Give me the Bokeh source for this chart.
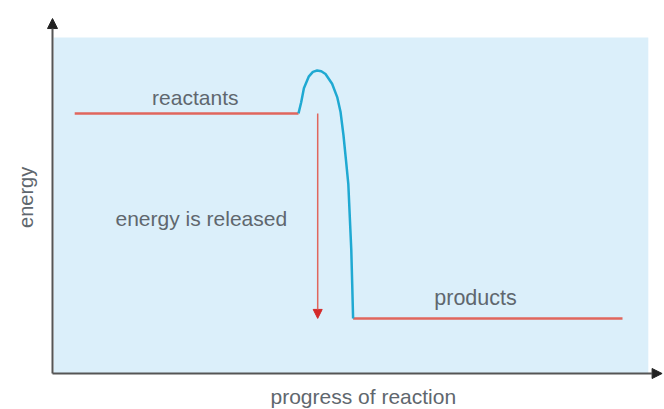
import math
from bokeh.plotting import figure
from bokeh.models import Range1d, Arrow, NormalHead
from bokeh.core.properties import value
from bokeh.embed import file_html
from bokeh.resources import INLINE

# schematic energy profile (progress 0-100, energy 0-100)
reactant_x = [3.7, 41.0]
reactant_y = [76.5, 76.5]
product_x = [50.1, 95.0]
product_y = [16.2, 16.2]
hump_x = [41.0, 41.45, 41.9, 42.7, 43.4, 44.1, 44.8, 45.5, 46.6, 47.45, 48.0, 48.5, 48.9, 49.3, 49.55, 49.8, 49.95, 50.1]
hump_y = [76.5, 79.8, 83.9, 87.3, 88.7, 89.1, 88.9, 88.1, 85.2, 81.3, 77.0, 70.0, 63.0, 55.8, 46.0, 36.2, 26.4, 16.2]
release_x = 44.2
labels = ["reactants", "energy is released", "products"]

W, H = 664, 409
OX, OY = 52, 373
XU, YU = 6.0, 3.4
p = figure(width=W, height=H,
           x_range=Range1d(-OX / XU, (W - OX) / XU), y_range=Range1d(-(H - OY) / YU, OY / YU),
           output_backend="svg", toolbar_location=None, min_border=0)
p.axis.visible = False
p.grid.visible = False
p.outline_line_color = None
p.background_fill_color = "white"
p.border_fill_color = "white"

p.quad(left=0.2, right=99.3, bottom=0, top=98.8, fill_color="#dbeffa", line_color=None)

red = "#e0665c"
p.line(reactant_x, reactant_y, line_color=red, line_width=2.5)
p.line(product_x, product_y, line_color=red, line_width=2.5)
p.line(hump_x, hump_y, line_color="#1fa9d2", line_width=2.5, line_join="round")

p.add_layout(Arrow(end=NormalHead(size=9, fill_color="#d42a2a", line_color="#d42a2a"),
                   x_start=release_x, y_start=reactant_y[0], x_end=release_x, y_end=product_y[0],
                   line_color="#e0665c", line_width=1.5))

# axes
p.add_layout(Arrow(end=NormalHead(size=10, fill_color="#222", line_color="#222"),
                   x_start=0, y_start=0, x_end=0, y_end=104.4, line_color="#555", line_width=2))
p.add_layout(Arrow(end=NormalHead(size=10, fill_color="#222", line_color="#222"),
                   x_start=0, y_start=0, x_end=101.6, y_end=0, line_color="#555", line_width=2))

font = value("Liberation Sans")
tc = "#5f676e"
p.text(x=[23.8], y=[81.2], text=[labels[0]], text_font=font, text_font_size="21px",
       text_color=tc, text_align="center", text_baseline="middle")
p.text(x=[10.5], y=[45.6], text=[labels[1]], text_font=font, text_font_size="21px",
       text_color=tc, text_align="left", text_baseline="middle")
p.text(x=[70.5], y=[22.1], text=[labels[2]], text_font=font, text_font_size="21.5px",
       text_color=tc, text_align="center", text_baseline="middle")
p.text(x=[51.8], y=[-6.76], text=["progress of reaction"], text_font=font, text_font_size="21px",
       text_color=tc, text_align="center", text_baseline="middle")
p.text(x=[-4.5], y=[51.8], text=["energy"], text_font=font, text_font_size="20px",
       text_color=tc, text_align="center", text_baseline="middle", angle=math.pi / 2)

open("out.html", "w").write(file_html(p, INLINE))
